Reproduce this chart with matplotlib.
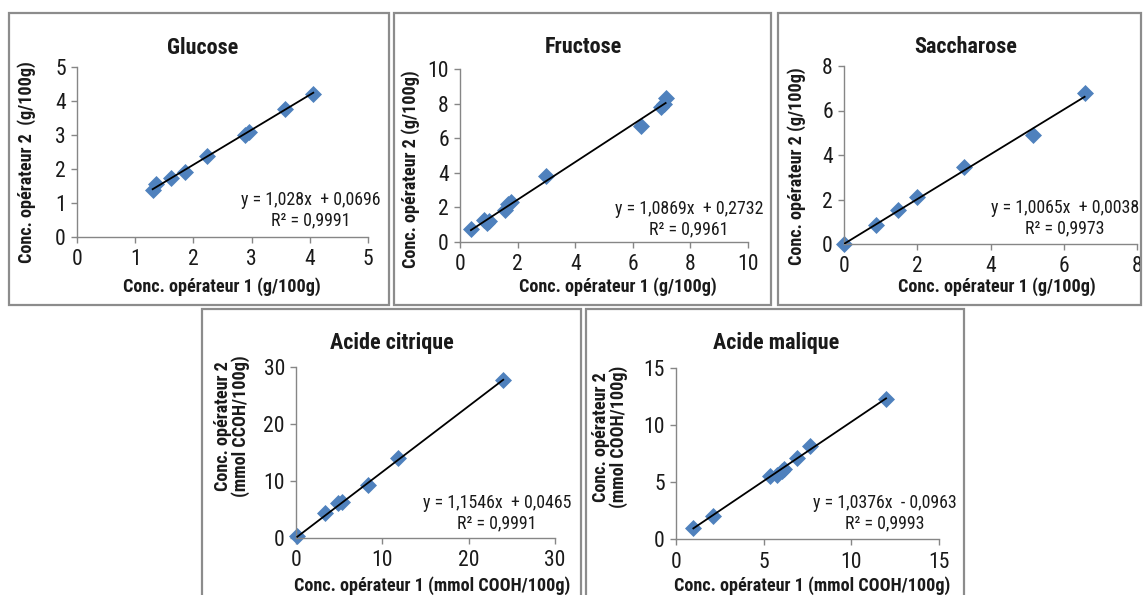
import numpy as np
import matplotlib
matplotlib.use("Agg")
import matplotlib.pyplot as plt
from matplotlib import font_manager
from matplotlib.patches import Rectangle

# the reference uses a narrow sans (Arial Narrow); take the closest one installed
names = set(f.name for f in font_manager.fontManager.ttflist)
for FONT in ["Liberation Sans Narrow", "Arial Narrow", "Roboto Condensed", "Archivo Narrow",
             "PT Sans Narrow", "Fira Sans Condensed", "Liberation Sans"]:
    if FONT in names:
        break
plt.rcParams["font.family"] = [FONT, "DejaVu Sans"]

W, H = 1145, 595
BLUE = "#4F81BD"
GREY = "#868686"
INK = "#1a1a1a"

# ---- data ----
glucose_x = [1.30, 1.35, 1.62, 1.85, 2.23, 2.89, 2.95, 3.58, 4.06]
glucose_y = [1.37, 1.56, 1.73, 1.92, 2.38, 3.00, 3.10, 3.76, 4.22]

fructose_x = [0.38, 0.85, 0.95, 1.02, 1.56, 1.68, 1.76, 3.00, 6.30, 6.99, 7.10, 7.14]
fructose_y = [0.77, 1.25, 1.10, 1.22, 1.84, 2.19, 2.32, 3.81, 6.73, 7.80, 8.00, 8.32]

saccharose_x = [0.0, 0.88, 1.47, 2.00, 3.29, 5.16, 6.57]
saccharose_y = [0.0, 0.86, 1.54, 2.10, 3.46, 4.90, 6.78]

citrique_x = [0.15, 3.36, 4.90, 5.30, 8.38, 11.80, 24.0]
citrique_y = [0.30, 4.37, 6.10, 6.40, 9.30, 14.10, 27.7]

malique_x = [0.99, 2.09, 5.36, 5.74, 6.03, 6.16, 6.92, 7.64, 11.98]
malique_y = [0.94, 1.99, 5.57, 5.60, 6.00, 6.15, 7.09, 8.15, 12.30]

titles = ["Glucose", "Fructose", "Saccharose", "Acide citrique", "Acide malique"]
slopes = [1.028, 1.0869, 1.0065, 1.1546, 1.0376]
intercepts = [0.0696, 0.2732, 0.0038, 0.0465, -0.0963]
equations = ["y = 1,028x  + 0,0696\nR² = 0,9991",
             "y = 1,0869x  + 0,2732\nR² = 0,9961",
             "y = 1,0065x  + 0,0038\nR² = 0,9973",
             "y = 1,1546x  + 0,0465\nR² = 0,9991",
             "y = 1,0376x  - 0,0963\nR² = 0,9993"]
xlabels = ["Conc. opérateur 1 (g/100g)"] * 3 + ["Conc. opérateur 1 (mmol COOH/100g)"] * 2
ylabels = ["Conc. opérateur 2  (g/100g)", "Conc. opérateur 2 (g/100g)", "Conc. opérateur 2 (g/100g)",
           "Conc. opérateur 2\n(mmol CCOH/100g)", "Conc. opérateur 2\n(mmol COOH/100g)"]
axis_max = [5, 10, 8, 30, 15]
tick_step = [1, 2, 2, 10, 5]

xs = [glucose_x, fructose_x, saccharose_x, citrique_x, malique_x]
ys = [glucose_y, fructose_y, saccharose_y, citrique_y, malique_y]

# layout in pixels (left, top, right, bottom)
frames = [(9, 13, 389, 305), (394, 13, 771, 305), (778, 13, 1141, 305),
          (202, 309, 581, 600), (586, 309, 964, 600)]
plots = [(77, 67, 368, 237), (460, 69, 748, 242), (844, 66, 1137, 244),
         (296, 367, 555, 538), (676, 368, 939, 539)]
title_pos = [(203, 48), (583, 47), (966, 47), (392, 343), (776, 343)]
xlab_pos = [(222, 287), (618, 287), (997, 287), (432, 586), (812, 586)]
ylab_pos = [(27, 162), (411, 169), (797, 166), (232, 426), (610, 437)]
eq_pos = [(311, 210), (689, 219), (1065, 218), (497, 513), (885, 513)]


def fx(px):
    return px / W


def fy(py):
    return 1 - py / H


fig = plt.figure(figsize=(W / 100, H / 100), dpi=100)
renderer = fig.canvas.get_renderer()


def fit_size(text, width_px, bold=False):
    # font size that makes `text` about width_px wide
    t = fig.text(0, 0, text, fontsize=10, fontweight="bold" if bold else "normal")
    w = t.get_window_extent(renderer).width
    t.remove()
    return 10 * width_px / w


title_fs = fit_size("Acide citrique", 124, bold=True)
label_fs = fit_size("Conc. opérateur 1 (g/100g)", 198, bold=True)
eq_fs = fit_size("y = 1,028x  + 0,0696", 138)
tick_fs = fit_size("10", 21)

for i in range(5):
    l, t, r, b = frames[i]
    fig.patches.append(Rectangle((fx(l), fy(b)), fx(r) - fx(l), fy(t) - fy(b),
                                 transform=fig.transFigure, fill=False,
                                 edgecolor="#8c8c8c", linewidth=1.6, zorder=0))

    l, t, r, b = plots[i]
    ax = fig.add_axes([fx(l), fy(b), fx(r) - fx(l), fy(t) - fy(b)])
    ax.set_facecolor("none")

    x = np.array(xs[i])
    y = np.array(ys[i])
    ax.scatter(x, y, marker="D", s=75, color=BLUE, linewidths=0, zorder=2, clip_on=False)
    line_x = np.array([x.min(), x.max()])
    ax.plot(line_x, slopes[i] * line_x + intercepts[i], color="black", linewidth=1.3, zorder=3)

    ax.set_xlim(0, axis_max[i])
    ax.set_ylim(0, axis_max[i])
    ticks = np.arange(0, axis_max[i] + 0.001, tick_step[i])
    ax.set_xticks(ticks)
    ax.set_yticks(ticks)
    ax.set_xticklabels([f"{v:g}" for v in ticks])
    ax.set_yticklabels([f"{v:g}" for v in ticks])
    for s in ["top", "right"]:
        ax.spines[s].set_visible(False)
    for s in ["left", "bottom"]:
        ax.spines[s].set_color(GREY)
        ax.spines[s].set_linewidth(1.0)
    ax.tick_params(axis="both", direction="out", length=4, width=1.0, color=GREY,
                   labelsize=tick_fs, labelcolor=INK)
    ax.tick_params(axis="x", pad=5)
    ax.tick_params(axis="y", pad=4)

    tx, ty = title_pos[i]
    fig.text(fx(tx), fy(ty), titles[i], ha="center", va="center",
             fontsize=title_fs, fontweight="bold", color=INK)
    tx, ty = xlab_pos[i]
    fig.text(fx(tx), fy(ty), xlabels[i], ha="center", va="center",
             fontsize=label_fs, fontweight="bold", color=INK)
    tx, ty = ylab_pos[i]
    fig.text(fx(tx), fy(ty), ylabels[i], ha="center", va="center", rotation=90,
             fontsize=label_fs, fontweight="bold", color=INK, linespacing=1.0)
    tx, ty = eq_pos[i]
    fig.text(fx(tx), fy(ty), equations[i], ha="center", va="center",
             fontsize=eq_fs, color=INK, linespacing=1.2)

fig.savefig("out.png", dpi=100)
